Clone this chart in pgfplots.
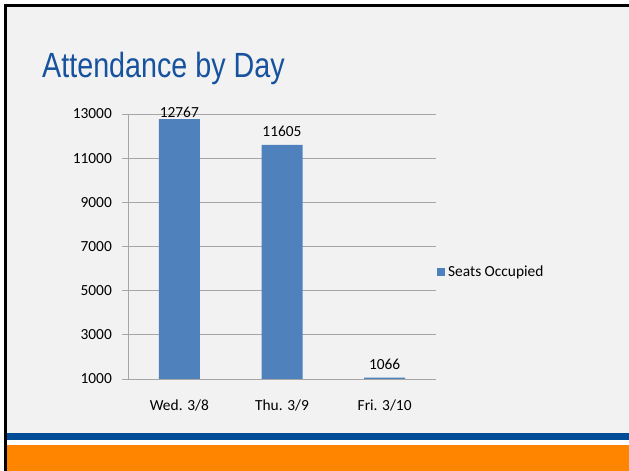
\documentclass[border=0pt]{standalone}
\usepackage{fontspec}
\setmainfont{Carlito}
\newfontfamily\titlefont[FakeStretch=0.82]{Liberation Sans}
\usepackage{pgfplots}
\pgfplotsset{compat=1.18}
\definecolor{slidebg}{RGB}{242,242,242}
\definecolor{titleblue}{RGB}{22,82,158}
\definecolor{stripeblue}{RGB}{0,76,151}
\definecolor{slideorange}{RGB}{255,132,0}
\definecolor{barblue}{RGB}{79,129,189}
\definecolor{gridgray}{RGB}{166,166,166}
\newcommand\lblfont{\fontsize{15.4}{17}\selectfont}
\begin{document}
\begin{tikzpicture}
% slide background (pixel coordinates, y measured from bottom = 471 - py)
\fill[white] (0pt,0pt) rectangle (629pt,471pt);
\fill[slidebg] (4pt,0pt) rectangle (629pt,467pt);
\fill[black] (4pt,464pt) rectangle (629pt,467pt);
\fill[black] (4pt,0pt) rectangle (7pt,467pt);
\fill[stripeblue] (7pt,31pt) rectangle (629pt,38pt);
\fill[white] (7pt,26pt) rectangle (629pt,31pt);
\fill[slideorange] (7pt,0pt) rectangle (629pt,26pt);
\node[anchor=base west, inner sep=0pt, text=titleblue, font=\titlefont\fontsize{35}{40}\selectfont] at (42pt,393pt) {Attendance by Day};
\begin{axis}[
  at={(128pt,92pt)}, anchor=south west,
  scale only axis, width=308pt, height=265pt,
  xmin=-0.5, xmax=2.5, ymin=1000, ymax=13000,
  ytick={1000,3000,5000,7000,9000,11000,13000},
  scaled y ticks=false,
  xtick={0,1,2},
  xticklabels={Wed. 3/8, Thu. 3/9, Fri. 3/10},
  minor xtick={-0.5,0.5,1.5,2.5},
  axis lines*=left,
  axis line style={gridgray, line width=0.8pt},
  tick align=outside,
  major tick length=6pt, minor tick length=5pt,
  xtick style={draw=none},
  minor x tick style={gridgray, line width=0.8pt},
  ytick style={gridgray, line width=0.8pt},
  ymajorgrids, major grid style={gridgray, line width=0.8pt},
  tick label style={font=\lblfont},
  /pgf/number format/assume math mode=true,
  /pgf/number format/1000 sep={},
  yticklabel style={anchor=east, inner sep=0pt, xshift=-10pt},
  xticklabel style={anchor=base, inner sep=0pt, yshift=-25pt},
  ybar, bar width=41pt, bar shift=0pt,
  legend style={at={(1.003,0.405)}, anchor=west, draw=none, fill=none, inner sep=0pt,
    font=\lblfont, cells={anchor=west},
    nodes={inner sep=3pt}},
  legend image code/.code={\fill[barblue] (0pt,-4pt) rectangle (8pt,4pt);},
  clip mode=individual,
]
\addplot[fill=barblue, draw=none] coordinates {(0,12767) (1,11605) (2,1066)};
\addlegendentry{Seats Occupied}
\node[anchor=base, inner sep=0pt, font=\lblfont, yshift=2pt] at (axis cs:0,12767) {12767};
\node[anchor=base, inner sep=0pt, font=\lblfont, yshift=8.5pt] at (axis cs:1,11605) {11605};
\node[anchor=base, inner sep=0pt, font=\lblfont, yshift=8.5pt] at (axis cs:2,1066) {1066};
\end{axis}
\end{tikzpicture}
\end{document}
